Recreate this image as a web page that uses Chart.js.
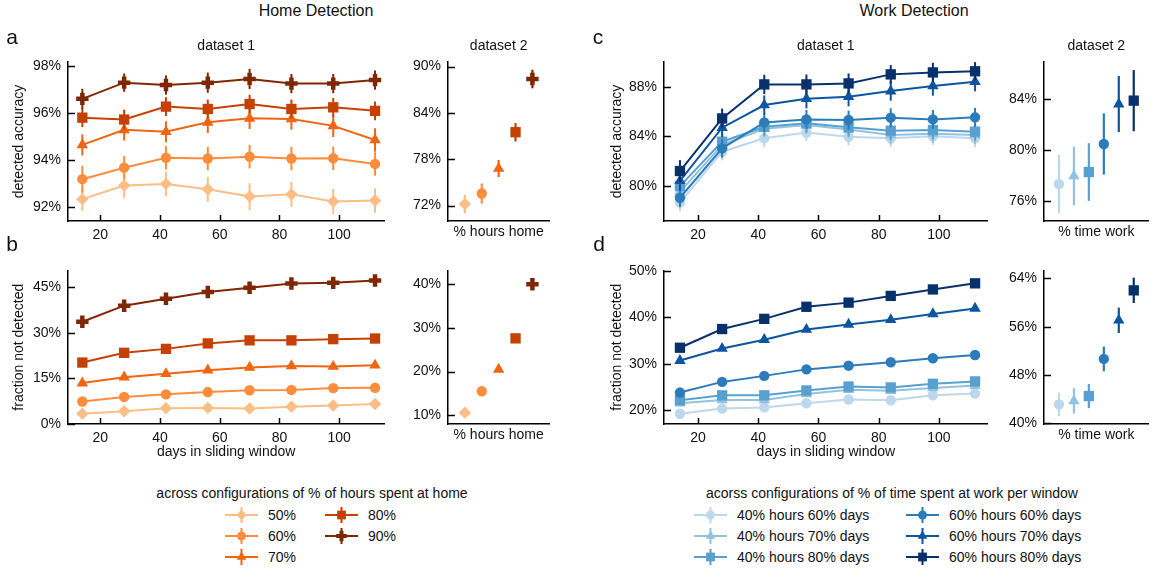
<!DOCTYPE html>
<html lang="en">
<head>
  <meta charset="UTF-8">
  <title>Home and Work Detection</title>
  <script src="https://cdn.jsdelivr.net/npm/chart.js"></script>
  <style>
    body {
      margin: 0;
      background: #fff;
      font-family: "Liberation Sans", Arial, sans-serif;
      color: #111;
    }
    #figure {
      position: relative;
      width: 1156px;
      height: 572px;
      overflow: hidden;
    }
    #figure canvas { position: absolute; }
    .label {
      position: absolute;
      white-space: nowrap;
      line-height: 1;
      font-size: 14px;
    }
  </style>
</head>
<body>
<div id="figure">
  <canvas id="homeAcc1" width="395" height="215" style="left:0px;top:35px"></canvas>
  <canvas id="homeAcc2" width="160" height="215" style="left:400px;top:35px"></canvas>
  <canvas id="homeMiss1" width="395" height="210" style="left:0px;top:255px"></canvas>
  <canvas id="homeMiss2" width="160" height="210" style="left:400px;top:255px"></canvas>
  <canvas id="workAcc1" width="415" height="215" style="left:580px;top:35px"></canvas>
  <canvas id="workAcc2" width="161" height="215" style="left:995px;top:35px"></canvas>
  <canvas id="workMiss1" width="415" height="210" style="left:580px;top:255px"></canvas>
  <canvas id="workMiss2" width="161" height="210" style="left:995px;top:255px"></canvas>
</div>

<script>
  // ---- data ----
  const windowDays = [14, 28, 42, 56, 70, 84, 98, 112];
  const dayTicks = [20, 40, 60, 80, 100];

  const homeLabels = ['50%', '60%', '70%', '80%', '90%'];
  const workLabels = ['40% hours 60% days', '40% hours 70% days', '40% hours 80% days',
                      '60% hours 60% days', '60% hours 70% days', '60% hours 80% days'];

  // a: detected accuracy, dataset 1 (one row per home configuration)
  const homeAccDs1 = [
    [92.33, 92.91, 92.98, 92.75, 92.44, 92.54, 92.23, 92.27],
    [93.18, 93.67, 94.09, 94.06, 94.14, 94.06, 94.07, 93.83],
    [94.64, 95.28, 95.20, 95.60, 95.77, 95.74, 95.45, 94.85],
    [95.80, 95.72, 96.27, 96.17, 96.38, 96.17, 96.24, 96.09],
    [96.60, 97.29, 97.19, 97.29, 97.45, 97.25, 97.25, 97.40]
  ];
  const homeAccErrDs1 = [
    [0.50, 0.53, 0.53, 0.53, 0.57, 0.53, 0.53, 0.52],
    [0.57, 0.50, 0.50, 0.50, 0.50, 0.50, 0.50, 0.50],
    [0.45, 0.45, 0.45, 0.45, 0.45, 0.45, 0.47, 0.50],
    [0.40, 0.42, 0.40, 0.40, 0.40, 0.40, 0.40, 0.40],
    [0.43, 0.39, 0.41, 0.43, 0.43, 0.41, 0.41, 0.41]
  ];
  const homeAccDs2 = [72.2, 73.56, 76.8, 81.5, 88.4];
  const homeAccErrDs2 = [1.2, 1.3, 1.1, 1.2, 1.2];

  // b: fraction not detected
  const homeMissDs1 = [
    [3.4, 4.2, 5.2, 5.3, 5.1, 5.7, 6.1, 6.6],
    [7.4, 8.9, 9.75, 10.5, 11.1, 11.2, 11.8, 11.9],
    [13.45, 15.4, 16.5, 17.7, 18.6, 19.1, 18.9, 19.3],
    [20.2, 23.4, 24.7, 26.5, 27.5, 27.5, 27.9, 28.1],
    [33.6, 38.9, 41.2, 43.4, 44.8, 46.2, 46.4, 47.2]
  ];
  const homeMissErrDs1 = [
    [0.4, 0.4, 0.4, 0.4, 0.4, 0.4, 0.4, 0.4],
    [0.4, 0.4, 0.4, 0.4, 0.4, 0.4, 0.4, 0.4],
    [0.5, 0.5, 0.5, 0.5, 0.5, 0.5, 0.5, 0.5],
    [0.6, 0.6, 0.6, 0.6, 0.6, 0.6, 0.6, 0.6],
    [0.8, 0.8, 0.8, 0.7, 0.7, 0.6, 0.6, 0.6]
  ];
  const homeMissDs2 = [10.6, 15.5, 20.5, 27.6, 40.0];
  const homeMissErrDs2 = [0.5, 0.5, 0.6, 1.0, 1.0];

  // c: work detected accuracy
  const workAccDs1 = [
    [78.63, 82.75, 83.83, 84.30, 83.96, 83.83, 84.00, 83.83],
    [79.50, 83.30, 84.60, 84.90, 84.55, 84.10, 84.20, 84.10],
    [79.97, 83.56, 84.77, 85.04, 84.72, 84.45, 84.50, 84.37],
    [79.03, 83.02, 85.12, 85.36, 85.31, 85.50, 85.36, 85.53],
    [80.40, 84.69, 86.52, 87.03, 87.20, 87.65, 88.06, 88.41],
    [81.19, 85.44, 88.19, 88.19, 88.27, 89.00, 89.16, 89.25]
  ];
  const workAccErrDs1 = [
    [0.70, 0.70, 0.70, 0.70, 0.70, 0.70, 0.70, 0.70],
    [0.72, 0.72, 0.72, 0.72, 0.72, 0.72, 0.72, 0.72],
    [0.74, 0.74, 0.74, 0.74, 0.74, 0.74, 0.74, 0.74],
    [0.76, 0.76, 0.76, 0.76, 0.76, 0.76, 0.76, 0.76],
    [0.78, 0.78, 0.78, 0.78, 0.78, 0.78, 0.78, 0.78],
    [0.88, 0.80, 0.78, 0.80, 0.80, 0.75, 0.78, 0.74]
  ];
  const workAccDs2 = [77.33, 77.96, 78.27, 80.47, 83.60, 83.87];
  const workAccErrDs2 = [2.3, 2.3, 2.26, 2.4, 2.2, 2.4];

  // d: work fraction not detected
  const workMissDs1 = [
    [19.24, 20.35, 20.6, 21.5, 22.3, 22.15, 23.2, 23.6],
    [21.5, 22.2, 22.2, 23.5, 24.4, 24.2, 24.8, 25.3],
    [22.15, 23.2, 23.2, 24.25, 25.1, 24.9, 25.7, 26.2],
    [23.8, 26.1, 27.4, 28.8, 29.6, 30.35, 31.2, 31.9],
    [30.7, 33.3, 35.2, 37.4, 38.5, 39.5, 40.76, 41.94],
    [33.47, 37.5, 39.7, 42.3, 43.2, 44.65, 46.04, 47.36]
  ];
  const workMissErrDs1 = [
    [0.35, 0.35, 0.35, 0.35, 0.35, 0.35, 0.35, 0.35],
    [0.35, 0.35, 0.35, 0.35, 0.35, 0.35, 0.35, 0.35],
    [0.35, 0.35, 0.35, 0.35, 0.35, 0.35, 0.35, 0.35],
    [0.4, 0.4, 0.4, 0.4, 0.4, 0.4, 0.4, 0.4],
    [0.4, 0.4, 0.4, 0.4, 0.4, 0.4, 0.4, 0.4],
    [0.45, 0.45, 0.45, 0.45, 0.45, 0.45, 0.45, 0.45]
  ];
  const workMissDs2 = [43.15, 43.73, 44.53, 50.67, 57.07, 62.03];
  const workMissErrDs2 = [1.95, 2.1, 2.0, 2.05, 2.1, 2.1];

  // tick values
  const homeAccTicks1 = [92, 94, 96, 98];
  const homeAccTicks2 = [72, 78, 84, 90];
  const homeMissTicks1 = [0, 15, 30, 45];
  const homeMissTicks2 = [10, 20, 30, 40];
  const workAccTicks1 = [80, 84, 88];
  const workAccTicks2 = [76, 80, 84];
  const workMissTicks1 = [20, 30, 40, 50];
  const workMissTicks2 = [40, 48, 56, 64];

  // ---- styles ----
  const homeColors = ['#fdbe85', '#fd8d3c', '#ef6511', '#c54102', '#7f2704'];
  const workColors = ['#bdd7ec', '#91c3df', '#58a0cf', '#2c7cba', '#0c56a0', '#08306b'];
  const homeMarkers = ['rectRot', 'circle', 'triangle', 'rect', 'cross'];
  const workMarkers = ['circle', 'triangle', 'rect', 'circle', 'triangle', 'rect'];
  const markerRadius = { rectRot: 6.2, circle: 5.2, triangle: 6.6, rect: 7.3, cross: 6.2 };

  const FONT = '"Liberation Sans", Arial, sans-serif';
  Chart.defaults.font.family = FONT;
  Chart.defaults.font.size = 14;
  Chart.defaults.color = '#111';

  // vertical error bars, drawn just before each dataset
  const errorBarPlugin = {
    id: 'errorBars',
    beforeDatasetDraw(chart, args) {
      const ds = chart.data.datasets[args.index];
      if (!ds.errors) return;
      const ctx = chart.ctx;
      const y = chart.scales.y;
      ctx.save();
      ctx.lineWidth = ds.errorWidth || 2;
      args.meta.data.forEach((pt, j) => {
        const v = ds.data[j].y, e = ds.errors[j];
        ctx.strokeStyle = Array.isArray(ds.pointBackgroundColor) ? ds.pointBackgroundColor[j] : ds.borderColor;
        ctx.beginPath();
        ctx.moveTo(pt.x, y.getPixelForValue(v + e));
        ctx.lineTo(pt.x, y.getPixelForValue(v - e));
        ctx.stroke();
      });
      ctx.restore();
    }
  };

  // tick marks pointing into the plot
  const innerTickPlugin = {
    id: 'innerTicks',
    beforeDatasetsDraw(chart, args, opts) {
      const ctx = chart.ctx, a = chart.chartArea;
      ctx.save();
      ctx.strokeStyle = '#000';
      ctx.lineWidth = 1.5;
      if (opts.y) {
        chart.scales.y.ticks.forEach(t => {
          const p = Math.round(chart.scales.y.getPixelForValue(t.value)) + 0.5;
          ctx.beginPath(); ctx.moveTo(a.left, p); ctx.lineTo(a.left + 7, p); ctx.stroke();
        });
      }
      if (opts.x) {
        chart.scales.x.ticks.forEach(t => {
          const p = Math.round(chart.scales.x.getPixelForValue(t.value)) + 0.5;
          ctx.beginPath(); ctx.moveTo(p, a.bottom); ctx.lineTo(p, a.bottom - 6); ctx.stroke();
        });
      }
      ctx.restore();
    }
  };

  // small title centred over the plot area
  const panelTitlePlugin = {
    id: 'panelTitle',
    afterDraw(chart, args, opts) {
      if (!opts.text) return;
      const ctx = chart.ctx, a = chart.chartArea;
      ctx.save();
      ctx.font = '14px ' + FONT;
      ctx.fillStyle = '#111';
      ctx.textAlign = 'center';
      ctx.textBaseline = 'middle';
      ctx.fillText(opts.text, (a.left + a.right) / 2, a.top - 16);
      ctx.restore();
    }
  };

  function lineSeries(values, errors, colors, markers) {
    return values.map((ys, i) => ({
      data: windowDays.map((d, j) => ({ x: d, y: ys[j] })),
      errors: errors[i],
      borderColor: colors[i],
      backgroundColor: colors[i],
      borderWidth: 2,
      pointStyle: markers[i],
      pointRadius: markerRadius[markers[i]],
      pointBackgroundColor: colors[i],
      pointBorderColor: colors[i],
      pointBorderWidth: markers[i] === 'cross' ? 4.5 : 0,
      tension: 0,
      clip: false,
      order: values.length - i
    }));
  }

  function pointSeries(values, errors, colors, markers) {
    return [{
      data: values.map((v, i) => ({ x: i + 1, y: v })),
      errors: errors,
      errorWidth: 2.2,
      showLine: false,
      pointStyle: markers,
      pointRadius: markers.map(m => markerRadius[m]),
      pointBackgroundColor: colors,
      pointBorderColor: colors,
      pointBorderWidth: markers.map(m => m === 'cross' ? 4.5 : 0),
      clip: false
    }];
  }

  function makePanel(id, datasets, o) {
    const pct = v => v + '%';
    return new Chart(document.getElementById(id), {
      type: 'line',
      data: { datasets: datasets },
      options: {
        responsive: false,
        animation: false,
        events: [],
        layout: { padding: { top: o.padTop, right: o.padRight, left: 0, bottom: 0 } },
        plugins: {
          legend: { display: false },
          tooltip: { enabled: false },
          panelTitle: { text: o.title },
          innerTicks: { x: !!o.xTicks, y: true }
        },
        scales: {
          x: {
            type: 'linear',
            min: o.xMin, max: o.xMax,
            grid: { display: false, drawTicks: false },
            border: { color: '#000', width: 1.5 },
            ticks: { display: !!o.xTicks, padding: 6, maxRotation: 0 },
            afterBuildTicks: s => { s.ticks = (o.xTicks || []).map(v => ({ value: v })); },
            afterFit: s => { s.height = o.xHeight; },
            title: o.xTitle ? { display: true, text: o.xTitle, padding: { top: 0, bottom: o.xTitlePad } } : { display: false }
          },
          y: {
            type: 'linear',
            min: o.yMin, max: o.yMax,
            grid: { display: false, drawTicks: false },
            border: { color: '#000', width: 1.5 },
            ticks: { padding: 7, callback: pct },
            afterBuildTicks: s => { s.ticks = o.yTicks.map(v => ({ value: v })); },
            afterFit: s => { s.width = o.yWidth; },
            title: o.yTitle ? { display: true, text: o.yTitle, padding: { top: o.yTitlePad, bottom: 0 } } : { display: false }
          }
        }
      },
      plugins: [errorBarPlugin, innerTickPlugin, panelTitlePlugin]
    });
  }

  // a
  makePanel('homeAcc1', lineSeries(homeAccDs1, homeAccErrDs1, homeColors, homeMarkers), {
    title: 'dataset 1', padTop: 27, padRight: 6, xMin: 9.2, xMax: 115.1, xTicks: dayTicks, xHeight: 29,
    yMin: 91.4, yMax: 98.17, yTicks: homeAccTicks1, yWidth: 68, yTitle: 'detected accuracy', yTitlePad: 10.6
  });
  makePanel('homeAcc2', pointSeries(homeAccDs2, homeAccErrDs2, homeColors, homeMarkers), {
    title: 'dataset 2', padTop: 27, padRight: 3, xMin: 0, xMax: 6, xHeight: 29, xTitle: '% hours home', xTitlePad: 9.4,
    yMin: 70.0, yMax: 90.6, yTicks: homeAccTicks2, yWidth: 48
  });
  // b
  makePanel('homeMiss1', lineSeries(homeMissDs1, homeMissErrDs1, homeColors, homeMarkers), {
    padTop: 10, padRight: 6, xMin: 9.2, xMax: 115.1, xTicks: dayTicks, xHeight: 41,
    xTitle: 'days in sliding window', xTitlePad: 4.0,
    yMin: 0, yMax: 50.5, yTicks: homeMissTicks1, yWidth: 68, yTitle: 'fraction not detected', yTitlePad: 10.6
  });
  makePanel('homeMiss2', pointSeries(homeMissDs2, homeMissErrDs2, homeColors, homeMarkers), {
    padTop: 10, padRight: 3, xMin: 0, xMax: 6, xHeight: 41, xTitle: '% hours home', xTitlePad: 21.6,
    yMin: 8.0, yMax: 43.16, yTicks: homeMissTicks2, yWidth: 48
  });
  // c
  makePanel('workAcc1', lineSeries(workAccDs1, workAccErrDs1, workColors, workMarkers), {
    title: 'dataset 1', padTop: 27, padRight: 6, xMin: 8.7, xMax: 116.2, xTicks: dayTicks, xHeight: 29,
    yMin: 77.15, yMax: 90.0, yTicks: workAccTicks1, yWidth: 84, yTitle: 'detected accuracy', yTitlePad: 28.3
  });
  makePanel('workAcc2', pointSeries(workAccDs2, workAccErrDs2, workColors, workMarkers), {
    title: 'dataset 2', padTop: 27, padRight: 3, xMin: 0, xMax: 7, xHeight: 29, xTitle: '% time work', xTitlePad: 9.4,
    yMin: 74.43, yMax: 86.9, yTicks: workAccTicks2, yWidth: 49
  });
  // d
  makePanel('workMiss1', lineSeries(workMissDs1, workMissErrDs1, workColors, workMarkers), {
    padTop: 10, padRight: 6, xMin: 8.7, xMax: 116.2, xTicks: dayTicks, xHeight: 41,
    xTitle: 'days in sliding window', xTitlePad: 4.0,
    yMin: 17.02, yMax: 50.15, yTicks: workMissTicks1, yWidth: 84, yTitle: 'fraction not detected', yTitlePad: 28.3
  });
  makePanel('workMiss2', pointSeries(workMissDs2, workMissErrDs2, workColors, workMarkers), {
    padTop: 10, padRight: 3, xMin: 0, xMax: 7, xHeight: 41, xTitle: '% time work', xTitlePad: 21.6,
    yMin: 39.9, yMax: 65.33, yTicks: workMissTicks2, yWidth: 49
  });

  // ---- headings, panel letters and legends ----
  const fig = document.getElementById('figure');

  function addText(text, x, y, size, centred) {
    const d = document.createElement('div');
    d.className = 'label';
    d.textContent = text;
    d.style.left = x + 'px';
    d.style.top = y + 'px';
    d.style.fontSize = size + 'px';
    d.style.transform = centred ? 'translate(-50%, -50%)' : 'translate(0, -50%)';
    fig.appendChild(d);
  }

  function addLegendIcon(x, y, color, style) {
    const c = document.createElement('canvas');
    c.width = 33; c.height = 18;
    c.style.left = x + 'px';
    c.style.top = (y - 9) + 'px';
    fig.appendChild(c);
    const ctx = c.getContext('2d');
    const cx = 16.5, cy = 9;
    ctx.strokeStyle = color;
    ctx.fillStyle = color;
    ctx.lineWidth = 2;
    ctx.beginPath();
    ctx.moveTo(0, cy); ctx.lineTo(33, cy);
    ctx.moveTo(cx, cy - 8); ctx.lineTo(cx, cy + 8);
    ctx.stroke();
    const bw = style === 'cross' ? 4 : 0;
    ctx.lineWidth = bw;
    Chart.helpers.drawPoint(ctx, { pointStyle: style, radius: markerRadius[style] * 0.85, borderWidth: bw, rotation: 0 }, cx, cy);
  }

  addText('Home Detection', 316, 11, 16, true);
  addText('Work Detection', 914, 11, 16, true);
  addText('a', 12, 36, 21, true);
  addText('b', 12, 243, 21, true);
  addText('c', 598, 36, 21, true);
  addText('d', 599, 243, 21, true);

  addText('across configurations of % of hours spent at home', 312, 493, 14, true);
  const homeCols = [225, 325], homeTextCols = [268, 368];
  const workCols = [694, 906], workTextCols = [737, 949];
  const rowsY = [514.5, 535.5, 556.5];
  homeLabels.forEach((lab, i) => {
    const col = i < 3 ? 0 : 1, row = i < 3 ? i : i - 3;
    addLegendIcon(homeCols[col], rowsY[row], homeColors[i], homeMarkers[i]);
    addText(lab, homeTextCols[col], rowsY[row], 14, false);
  });

  addText('acorss configurations of % of time spent at work per window', 892, 493, 14, true);
  workLabels.forEach((lab, i) => {
    const col = i < 3 ? 0 : 1, row = i % 3;
    addLegendIcon(workCols[col], rowsY[row], workColors[i], workMarkers[i]);
    addText(lab, workTextCols[col], rowsY[row], 14, false);
  });
</script>
</body>
</html>
